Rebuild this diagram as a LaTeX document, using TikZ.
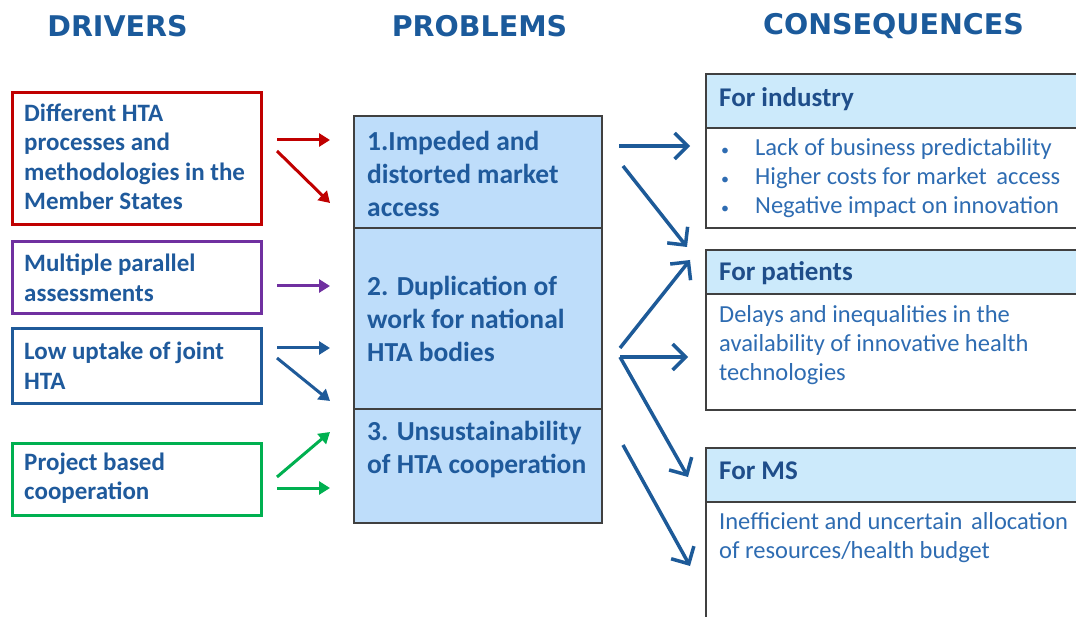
\documentclass[tikz,border=0pt]{standalone}
\usepackage{fontspec}
\setmainfont{Carlito}
\newfontfamily\hdrfont{DejaVu Sans}
\usetikzlibrary{arrows.meta}
\definecolor{titleblue}{HTML}{1B5A9B}
\definecolor{drvtext}{HTML}{1F5A9C}
\definecolor{redb}{HTML}{C00000}
\definecolor{purpleb}{HTML}{7030A0}
\definecolor{blueb}{HTML}{1F5A99}
\definecolor{greenb}{HTML}{00B050}
\definecolor{probfill}{HTML}{BEDDFA}
\definecolor{hdrfill}{HTML}{CCEAFB}
\definecolor{edgegray}{HTML}{404040}
\definecolor{hdrtext}{HTML}{1F4E8A}
\definecolor{bodytext}{HTML}{2E6CB2}
\definecolor{arrblue}{HTML}{1D5A98}
\begin{document}
\begin{tikzpicture}[x=1pt,y=-1pt,
  coltitle/.style={font=\hdrfont\bfseries\fontsize{28.5}{32}\selectfont, text=titleblue, inner sep=0},
  drvbox/.style={draw, line width=3pt, minimum width=249, inner sep=0},
  drvtxt/.style={font=\bfseries\fontsize{25}{29.5}\selectfont, text=drvtext, align=left, inner sep=0, anchor=west},
  probbox/.style={draw=edgegray, line width=1.8pt, fill=probfill, minimum width=248, inner sep=0},
  probtxt/.style={font=\bfseries\fontsize{27.5}{33}\selectfont, text=drvtext, align=left, inner sep=0, anchor=west},
  conhdr/.style={draw=edgegray, line width=1.8pt, fill=hdrfill, minimum width=384, inner sep=0},
  conbody/.style={draw=edgegray, line width=1.8pt, fill=white, minimum width=384, inner sep=0},
  conhtxt/.style={font=\bfseries\fontsize{27}{30}\selectfont, text=hdrtext, inner sep=0, anchor=west},
  conbtxt/.style={font=\fontsize{24.5}{29}\selectfont, text=bodytext, align=left, inner sep=0, anchor=west},
  darr/.style={line width=3pt, -{Triangle[length=11pt,width=13pt]}},
  parr/.style={line width=3.5pt, draw=arrblue, -{Straight Barb[length=13pt,width=26pt,line width=3.5pt]}}
]
\clip (0,0) rectangle (1076,617);
\useasboundingbox (0,0) rectangle (1076,617);

% column titles
\node[coltitle] (tdrv) at (117.5,26) {DRIVERS};
\node[coltitle] (tprob) at (479.5,26) {PROBLEMS};
\node[coltitle] (tcons) at (893.5,26) {CONSEQUENCES};

% drivers
\node[drvbox, draw=redb, minimum height=132] (d1) at (136.5,159) {};
\node[drvtxt] (d1t) at (24,157) {Different HTA\\processes and\\methodologies in the\\Member States};
\node[drvbox, draw=purpleb, minimum height=72] (d2) at (136.5,278) {};
\node[drvtxt] (d2t) at (24,278) {Multiple parallel\\assessments};
\node[drvbox, draw=blueb, minimum height=74] (d3) at (136.5,366) {};
\node[drvtxt] (d3t) at (24,365.5) {Low uptake of joint\\HTA};
\node[drvbox, draw=greenb, minimum height=72] (d4) at (136.5,479) {};
\node[drvtxt] (d4t) at (24,478) {Project based\\cooperation};

% problems
\node[probbox, minimum height=112] (p1) at (478,172) {};
\node[probbox, minimum height=181] (p2) at (478,318.5) {};
\node[probbox, minimum height=114] (p3) at (478,466) {};
\node[probtxt] (p1t) at (367,173.5) {1.Impeded and\\distorted market\\access};
\node[probtxt] (p2t) at (367,319) {2. Duplication of\\work for national\\HTA bodies};
\node[probtxt] (p3t) at (367,449.5) {3. Unsustainability\\of HTA cooperation};

% consequences
\node[conhdr, minimum height=54] (c1h) at (898,101) {};
\node[conbody, minimum height=100] (c1b) at (898,178) {};
\node[conhtxt] (c1ht) at (719,99) {For industry};
\node[conbtxt] (c1bt) at (721,178) {\makebox[34pt][l]{\fontsize{16}{16}\selectfont\textbullet}Lack of business predictability\\
\makebox[34pt][l]{\fontsize{16}{16}\selectfont\textbullet}Higher costs for market\hspace{4pt} access\\
\makebox[34pt][l]{\fontsize{16}{16}\selectfont\textbullet}Negative impact on innovation};

\node[conhdr, minimum height=44] (c2h) at (898,272) {};
\node[conbody, minimum height=116] (c2b) at (898,352) {};
\node[conhtxt] (c2ht) at (719,273) {For patients};
\node[conbtxt] (c2bt) at (719,345) {Delays and inequalities in the\\availability of innovative health\\technologies};

\node[conhdr, minimum height=54] (c3h) at (898,475) {};
\node[conbody, minimum height=140] (c3b) at (898,572) {};
\node[conhtxt] (c3ht) at (719,471) {For MS};
\node[conbtxt] (c3bt) at (719,538) {Inefficient and uncertain\hspace{3pt} allocation\\of resources/health budget};

% driver arrow end points
\coordinate (r1s) at (277,140); \coordinate (r1e) at (330,140);
\coordinate (r2s) at (277,151); \coordinate (r2e) at (330,203);
\coordinate (u1s) at (277,286); \coordinate (u1e) at (330,286);
\coordinate (b1s) at (277,348); \coordinate (b1e) at (330,348);
\coordinate (b2s) at (277,358); \coordinate (b2e) at (330,401);
\coordinate (g1s) at (277,477); \coordinate (g1e) at (330,432);
\coordinate (g2s) at (277,488); \coordinate (g2e) at (330,488);
\draw[darr, redb] (r1s) -- (r1e);
\draw[darr, redb] (r2s) -- (r2e);
\draw[darr, purpleb] (u1s) -- (u1e);
\draw[darr, blueb] (b1s) -- (b1e);
\draw[darr, blueb] (b2s) -- (b2e);
\draw[darr, greenb] (g1s) -- (g1e);
\draw[darr, greenb] (g2s) -- (g2e);

% problem arrow end points
\coordinate (a1s) at (619,146); \coordinate (a1e) at (690,146);
\coordinate (a2s) at (623,166); \coordinate (a2e) at (687,247);
\coordinate (a3s) at (620,348); \coordinate (a3e) at (690,260);
\coordinate (a4s) at (620,357); \coordinate (a4e) at (688,357);
\coordinate (a5e) at (688,477);
\coordinate (a6s) at (623,445); \coordinate (a6e) at (690,566);
\draw[parr] (a1s) -- (a1e);
\draw[parr] (a2s) -- (a2e);
\draw[parr] (a3s) -- (a3e);
\draw[parr] (a4s) -- (a4e);
\draw[parr] (a4s) -- (a5e);
\draw[parr] (a6s) -- (a6e);
\end{tikzpicture}
\end{document}
